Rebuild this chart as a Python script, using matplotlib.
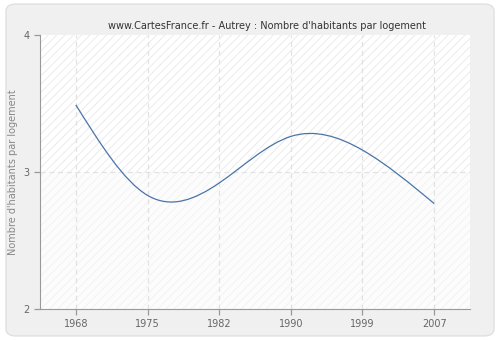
import matplotlib
matplotlib.use('Agg')
import matplotlib.pyplot as plt
import numpy as np
from matplotlib.path import Path
from matplotlib.patches import PathPatch, FancyBboxPatch

# data
years = ['1968', '1975', '1982', '1990', '1999', '2007']
values = [3.49, 2.83, 2.92, 3.26, 3.16, 2.77]
yticks = [2, 3, 4]

title = "www.CartesFrance.fr - Autrey : Nombre d'habitants par logement"
ylabel = "Nombre d'habitants par logement"

plt.rcParams['hatch.linewidth'] = 0.6

fig = plt.figure(figsize=(5, 3.4), dpi=100)
fig.patch.set_facecolor('white')
fig.patches.append(FancyBboxPatch((0.012, 0.012), 0.976, 0.976,
                                  boxstyle='round,pad=0,rounding_size=0.02',
                                  transform=fig.transFigure, facecolor='#f0f0f0',
                                  edgecolor='#e0e0e0', linewidth=1, zorder=-5))

ax = fig.add_axes([0.08, 0.091, 0.86, 0.806])
ax.set_zorder(2)
ax.set_facecolor('white')
x = np.arange(len(years))
ax.set_xlim(-0.5, len(years) - 0.5)
ax.set_ylim(2, 4)

# hatched background, lighter below 3
ax.axhspan(3, 4, facecolor='white', edgecolor='#e8e8e8', hatch='////', linewidth=0, zorder=0)
ax.axhspan(2, 3, facecolor='#fcfcfc', edgecolor='#f1f1f1', hatch='////', linewidth=0, zorder=0)

# grid
for xi in x:
    ax.axvline(xi, color='#e2e2e2', linestyle=(0, (4, 3)), linewidth=0.9, zorder=1)
ax.axhline(3, color='#e2e2e2', linestyle=(0, (4, 3)), linewidth=0.9, zorder=1)

# smooth curve: bezier segments with natural-spline tangents
y = np.array(values)
n = len(y)
A = np.zeros((n, n))
b = np.zeros(n)
A[0, 0] = A[-1, -1] = 1
for i in range(1, n - 1):
    A[i, i - 1:i + 2] = [1, 4, 1]
    b[i] = 6 * (y[i + 1] - 2 * y[i] + y[i - 1])
M = np.linalg.solve(A, b)
d = np.zeros(n)
for i in range(n - 1):
    d[i] = (y[i + 1] - y[i]) - (2 * M[i] + M[i + 1]) / 6
d[-1] = (y[-1] - y[-2]) + (M[-2] + 2 * M[-1]) / 6

verts = [(x[0], y[0])]
codes = [Path.MOVETO]
for i in range(n - 1):
    verts += [(x[i] + 1 / 3, y[i] + d[i] / 3),
              (x[i + 1] - 1 / 3, y[i + 1] - d[i + 1] / 3),
              (x[i + 1], y[i + 1])]
    codes += [Path.CURVE4] * 3
ax.add_patch(PathPatch(Path(verts, codes), facecolor='none', edgecolor='#4a74a8',
                       linewidth=0.9, zorder=3))

ax.set_xticks(x)
ax.set_xticklabels(years)
ax.set_yticks(yticks)
for s in ['top', 'right']:
    ax.spines[s].set_visible(False)
for s in ['left', 'bottom']:
    ax.spines[s].set_color('#999999')
ax.tick_params(colors='#999999', labelcolor='#666666', labelsize=7, length=4, width=0.9)
ax.set_ylabel(ylabel, fontsize=7, color='#888888')
ax.yaxis.set_label_coords(-0.05, 0.5)
fig.text(0.533, 0.91, title, ha='center', va='bottom', fontsize=7, color='#333333')

fig.savefig('out.png', dpi=100, facecolor=fig.get_facecolor())
